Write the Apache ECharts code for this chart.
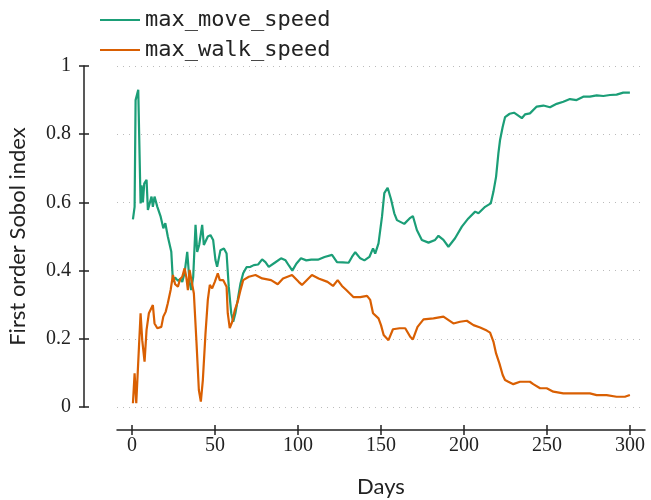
<!DOCTYPE html>
<html><head><meta charset="utf-8">
<script src="https://cdn.jsdelivr.net/npm/echarts@6/dist/echarts.min.js"></script>
<style>html,body{margin:0;padding:0;background:#fff}#c{width:651px;height:500px}</style>
</head><body><div id="c"></div>
<script>
const seriesNames = ['max_move_speed', 'max_walk_speed'];
const xTicks = [0, 50, 100, 150, 200, 250, 300];
const yTicks = [0, 0.2, 0.4, 0.6, 0.8, 1];

const moveDays = [0.6,1.6,2.2,3.8,5.2,5.8,6.6,7.4,8.8,9.6,11.8,12.6,13.6,15.3,17.3,18.9,20.1,21.6,23.7,24.7,26,27.7,29,30.3,31.7,33.3,34.7,35.7,36.9,38.3,39.3,40.5,42.3,43.3,45.7,47.3,48.9,50.3,51.3,53.3,55.4,57,58.3,59.8,61,62.3,63.7,65.4,67,69,71.4,73.4,76,78.4,80.4,82.4,86,89.8,92.5,94.5,96.6,99,101.8,105,108,112,116,120.5,123.5,127,130.5,132.5,134.5,137.5,140,143,145.2,146.5,148.5,150.6,152,154,156,158,159.6,164,167.2,169.2,171.6,174.6,178.6,182.6,184.6,187.6,190.6,194.6,198.7,202.6,206.7,208.7,212.7,216.1,217.7,219.3,220.7,221.7,223.3,224.7,227.5,230.1,232.5,234.8,236.7,239.7,243.8,247.8,251.8,255.8,259.8,263.8,267.8,271.8,275.8,279.9,283.9,287.9,291.9,295.9,299.9];
const moveValues = [0.55,0.587,0.90,0.93,0.597,0.65,0.6,0.655,0.666,0.578,0.617,0.587,0.617,0.587,0.558,0.524,0.539,0.50,0.455,0.367,0.38,0.37,0.375,0.367,0.393,0.455,0.367,0.343,0.382,0.534,0.455,0.475,0.534,0.475,0.50,0.504,0.49,0.431,0.411,0.46,0.465,0.45,0.353,0.275,0.25,0.275,0.314,0.363,0.392,0.41,0.411,0.416,0.418,0.433,0.425,0.411,0.423,0.436,0.43,0.415,0.40,0.42,0.436,0.43,0.432,0.432,0.44,0.446,0.425,0.424,0.423,0.44,0.454,0.436,0.43,0.44,0.465,0.45,0.48,0.558,0.627,0.643,0.61,0.568,0.548,0.537,0.553,0.56,0.519,0.49,0.482,0.49,0.502,0.49,0.47,0.495,0.529,0.553,0.573,0.568,0.587,0.597,0.631,0.675,0.744,0.783,0.822,0.85,0.86,0.863,0.855,0.847,0.858,0.861,0.881,0.884,0.879,0.889,0.895,0.903,0.90,0.91,0.91,0.914,0.912,0.915,0.916,0.922,0.922];

const walkDays = [0.6,1.6,2.6,3.6,5.2,6.2,7.6,8.8,10.2,12.6,13.6,15.3,17.7,18.9,20.3,21.6,23.3,24.7,26,27.7,29,30.3,31.7,32.7,33.7,34.7,35.7,37.3,38.9,40.3,41.5,42.7,44.3,45.7,46.9,48.3,49.9,51.7,52.9,55,57,57.7,58.9,60.4,62,63.7,65.5,67,70.4,74.4,78.4,83.8,87.8,91,96.4,100.4,102.4,108.4,112.4,117.8,121.1,123.9,126.5,129.1,133.5,137.5,141.6,143.5,145.2,148.5,150,151.6,154.5,157.2,161.2,164.6,167.6,169.2,172,175.6,181.6,187.6,193.6,197.6,201.7,205.7,209.7,213.7,215.7,217.7,219.3,221.3,223.3,224.7,226.7,229.7,233.7,236.7,239.7,241.7,245.8,249.8,253.8,259.8,267.8,275.8,279.9,285.9,291.9,296.9,299.9];
const walkValues = [0.011,0.099,0.011,0.016,0.275,0.196,0.133,0.226,0.275,0.299,0.245,0.231,0.235,0.265,0.279,0.304,0.343,0.387,0.36,0.353,0.375,0.382,0.407,0.382,0.343,0.402,0.407,0.333,0.187,0.05,0.016,0.079,0.216,0.314,0.358,0.348,0.367,0.392,0.372,0.372,0.353,0.275,0.231,0.25,0.285,0.309,0.345,0.372,0.382,0.387,0.377,0.372,0.36,0.377,0.387,0.367,0.358,0.387,0.377,0.367,0.355,0.372,0.355,0.343,0.322,0.322,0.326,0.314,0.275,0.26,0.24,0.211,0.196,0.228,0.231,0.231,0.206,0.198,0.235,0.257,0.26,0.265,0.245,0.25,0.253,0.24,0.233,0.224,0.218,0.192,0.157,0.128,0.094,0.079,0.074,0.067,0.074,0.074,0.074,0.067,0.055,0.055,0.045,0.04,0.04,0.04,0.035,0.035,0.03,0.03,0.035];

const toPairs = (xs, ys) => xs.map((x, i) => [x, ys[i]]);

const chart = echarts.init(document.getElementById('c'), null, {renderer: 'canvas'});
const axisCol = '#222';
const serif = 'Liberation Serif';
const sans = 'Lato';

chart.setOption({
  animation: false,
  color: ['#1b9e77', '#d95f02'],
  legend: {
    orient: 'vertical', left: 95, top: 3,
    icon: 'rect', itemWidth: 40, itemHeight: 2, itemGap: 6,
    textStyle: {fontFamily: 'DejaVu Sans Mono', fontSize: 22, color: '#222', lineHeight: 24},
    data: seriesNames
  },
  grid: {left: 117, right: 6, top: 66, bottom: 93, containLabel: false, outerBoundsMode: 'none'},
  xAxis: [{
    type: 'value', min: -9, max: 309, offset: 23, position: 'bottom',
    name: 'Days', nameLocation: 'middle', nameGap: 46,
    nameTextStyle: {fontFamily: sans, fontSize: 22, color: '#222'},
    axisLine: {show: true, onZero: false, lineStyle: {color: axisCol, width: 1.5}},
    axisTick: {show: true, customValues: xTicks, length: 5, inside: false, lineStyle: {color: axisCol, width: 1.5}},
    axisLabel: {customValues: xTicks, fontFamily: serif, fontSize: 20, color: '#222', margin: 6},
    splitLine: {show: false}
  }, {
    type: 'value', min: -9, max: 309, position: 'bottom', offset: 23,
    axisLine: {show: false, onZero: false},
    axisTick: {show: true, customValues: xTicks, length: 5, inside: true, lineStyle: {color: axisCol, width: 1.5}},
    axisLabel: {show: false}, splitLine: {show: false}
  }],
  yAxis: [{
    type: 'value', min: 0, max: 1, interval: 0.2, offset: 33, position: 'left',
    name: 'First order Sobol index', nameLocation: 'middle', nameGap: 55, nameRotate: 90,
    nameTextStyle: {fontFamily: sans, fontSize: 22, color: '#222'},
    axisLine: {show: true, onZero: false, lineStyle: {color: axisCol, width: 1.5}},
    axisTick: {show: true, length: 5, lineStyle: {color: axisCol, width: 1.5}},
    axisLabel: {fontFamily: serif, fontSize: 20, color: '#222', margin: 13,
      formatter: v => (Math.round(v * 10) / 10).toString()},
    splitLine: {show: true, lineStyle: {color: '#bbb', type: [1, 5], width: 1}}
  }, {
    type: 'value', min: 0, max: 1, interval: 0.2, position: 'left', offset: 33,
    axisLine: {show: false, onZero: false},
    axisTick: {show: true, length: 5, inside: true, lineStyle: {color: axisCol, width: 1.5}},
    axisLabel: {show: false}, splitLine: {show: false}
  }],
  series: [{
    name: seriesNames[0], type: 'line', showSymbol: false, symbol: 'none',
    lineStyle: {width: 2.2}, data: toPairs(moveDays, moveValues)
  }, {
    name: seriesNames[1], type: 'line', showSymbol: false, symbol: 'none',
    lineStyle: {width: 2.2}, data: toPairs(walkDays, walkValues)
  }]
});
</script></body></html>
